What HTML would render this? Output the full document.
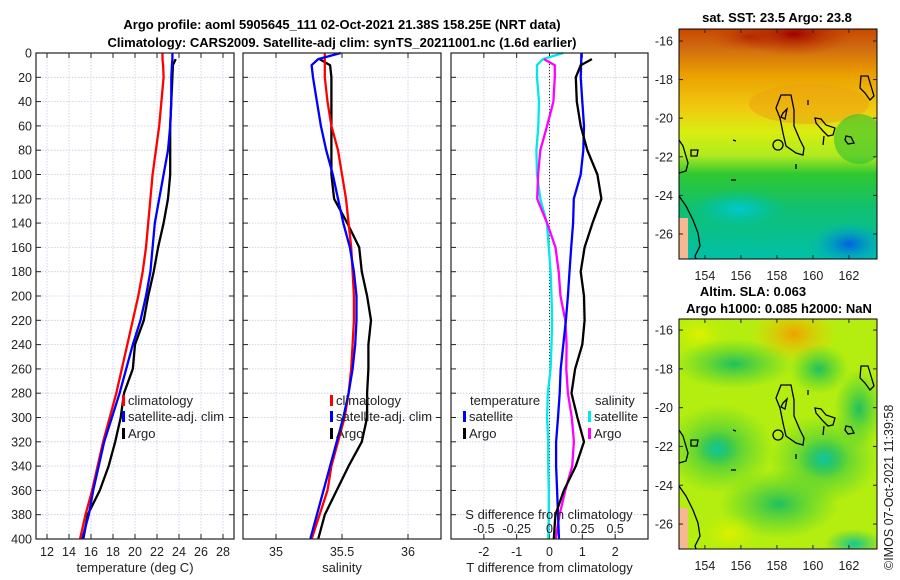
<!DOCTYPE html>
<html><head><meta charset="utf-8"><style>
body{margin:0;background:#fff}
svg{display:block;font-family:"Liberation Sans","DejaVu Sans",sans-serif}
</style></head><body>
<svg id="fig" width="900" height="580" viewBox="0 0 900 580" xmlns="http://www.w3.org/2000/svg">
<defs>
<linearGradient id="sstBase" x1="0" y1="0" x2="0" y2="1">
<stop offset="0" stop-color="#c84800"/><stop offset="0.08" stop-color="#d06a10"/><stop offset="0.2" stop-color="#eba000"/>
<stop offset="0.35" stop-color="#f0cc10"/><stop offset="0.45" stop-color="#d8ee10"/><stop offset="0.55" stop-color="#b0ea20"/>
<stop offset="0.63" stop-color="#30c830"/><stop offset="0.78" stop-color="#10c070"/><stop offset="1" stop-color="#00c0a8"/>
</linearGradient>
<radialGradient id="sstRed" cx="0.5" cy="0.5" r="0.5"><stop offset="0" stop-color="#a00000"/><stop offset="1" stop-color="#c04000" stop-opacity="0"/></radialGradient>
<radialGradient id="sstBlue" cx="0.5" cy="0.5" r="0.5"><stop offset="0" stop-color="#0060e0"/><stop offset="1" stop-color="#00b0d0" stop-opacity="0"/></radialGradient>
<radialGradient id="sstCyan" cx="0.5" cy="0.5" r="0.5"><stop offset="0" stop-color="#00c8d0"/><stop offset="1" stop-color="#00c0a8" stop-opacity="0"/></radialGradient>
<radialGradient id="slaG" cx="0.5" cy="0.5" r="0.5"><stop offset="0" stop-color="#20c060"/><stop offset="1" stop-color="#40cc30" stop-opacity="0"/></radialGradient>
<radialGradient id="slaT" cx="0.5" cy="0.5" r="0.5"><stop offset="0" stop-color="#10c8a0"/><stop offset="1" stop-color="#30c050" stop-opacity="0"/></radialGradient>
<radialGradient id="slaO" cx="0.5" cy="0.5" r="0.5"><stop offset="0" stop-color="#f0a000"/><stop offset="1" stop-color="#e8d000" stop-opacity="0"/></radialGradient>
<radialGradient id="slaY" cx="0.5" cy="0.5" r="0.5"><stop offset="0" stop-color="#e0f000"/><stop offset="1" stop-color="#c0f000" stop-opacity="0"/></radialGradient>
<clipPath id="clipTop"><rect x="0" y="0" width="198" height="230"/></clipPath>
<clipPath id="clipBot"><rect x="0" y="0" width="198" height="230"/></clipPath>
</defs>

<text x="342" y="29" font-size="13" font-weight="bold" text-anchor="middle">Argo profile: aoml 5905645_111 02-Oct-2021 21.38S 158.25E (NRT data)</text>
<text x="342" y="47" font-size="13" font-weight="bold" text-anchor="middle">Climatology: CARS2009. Satellite-adj clim: synTS_20211001.nc (1.6d earlier)</text>

<g id="plots"></g>

<!-- SST map -->
<g transform="translate(679,29)">
<g clip-path="url(#clipTop)">
<rect width="198" height="230" fill="url(#sstBase)"/>
<ellipse cx="115" cy="5" rx="60" ry="22" fill="url(#sstRed)"/>
<ellipse cx="70" cy="8" rx="40" ry="15" fill="url(#sstRed)" opacity="0.5"/>
<ellipse cx="130" cy="75" rx="60" ry="20" fill="#eca010" opacity="0.5"/>
<ellipse cx="170" cy="215" rx="40" ry="22" fill="url(#sstBlue)"/>
<ellipse cx="60" cy="180" rx="50" ry="20" fill="url(#sstCyan)"/>
<ellipse cx="180" cy="110" rx="25" ry="25" fill="#30c030" opacity="0.6"/>
<rect x="0" y="189" width="9" height="41" fill="#f5b890"/>
<g fill="none" stroke="#000" stroke-width="1.3">
<path d="M102,66 L112,66 L115,81 L115,97 L121,111 L125,119 L124,126 L117,124 L107,117 L104,104 L101,89 L97,79 Z"/>
<path d="M104,84 L108,80 L106,90 L102,88 Z"/>
<circle cx="99" cy="116" r="5"/>
<path d="M136,89 L142,90 L147,96 L156,99 L154,106 L149,107 L144,102 L137,94 Z"/>
<path d="M182,47 L189,47 L192,57 L195,67 L191,71 L186,64 L181,59 Z"/>
<path d="M167,107 L172,108 L175,114 L169,115 L166,111 Z"/>
<path d="M0,111 L4,117 L9,134 L7,142 L0,144"/>
<path d="M12,121 L19,121 L18,127 L12,127 Z"/>
<path d="M0,167 L7,177 L14,191 L19,204 L21,217 L16,227 L17,230"/>
<path d="M145,107 L144,116"/><path d="M117,135 L117,140"/><path d="M129,71 L129,76"/><path d="M52,151 L57,151"/><path d="M54,111 L57,112"/>
</g>
</g>
<rect width="198" height="230" fill="none" stroke="#000" stroke-width="1"/>
</g>

<!-- SLA map -->
<g transform="translate(679,319)">
<g clip-path="url(#clipBot)">
<rect width="198" height="230" fill="#b4ee10"/>
<ellipse cx="115" cy="15" rx="45" ry="30" fill="url(#slaO)"/>
<ellipse cx="20" cy="15" rx="30" ry="20" fill="url(#slaY)"/>
<ellipse cx="55" cy="45" rx="60" ry="25" fill="url(#slaG)"/>
<ellipse cx="140" cy="50" rx="30" ry="25" fill="url(#slaG)"/>
<ellipse cx="40" cy="130" rx="55" ry="45" fill="url(#slaG)"/>
<ellipse cx="38" cy="130" rx="22" ry="18" fill="url(#slaT)"/>
<ellipse cx="145" cy="140" rx="55" ry="45" fill="url(#slaG)"/>
<ellipse cx="145" cy="140" rx="25" ry="20" fill="url(#slaT)"/>
<ellipse cx="100" cy="185" rx="60" ry="35" fill="url(#slaG)"/>
<ellipse cx="175" cy="225" rx="30" ry="15" fill="url(#slaT)"/>
<ellipse cx="180" cy="90" rx="25" ry="40" fill="url(#slaG)"/>
<ellipse cx="50" cy="215" rx="30" ry="20" fill="url(#slaY)"/>
<rect x="0" y="189" width="9" height="41" fill="#f5b890"/>
<g fill="none" stroke="#000" stroke-width="1.3">
<path d="M102,66 L112,66 L115,81 L115,97 L121,111 L125,119 L124,126 L117,124 L107,117 L104,104 L101,89 L97,79 Z"/>
<path d="M104,84 L108,80 L106,90 L102,88 Z"/>
<circle cx="99" cy="116" r="5"/>
<path d="M136,89 L142,90 L147,96 L156,99 L154,106 L149,107 L144,102 L137,94 Z"/>
<path d="M182,47 L189,47 L192,57 L195,67 L191,71 L186,64 L181,59 Z"/>
<path d="M167,107 L172,108 L175,114 L169,115 L166,111 Z"/>
<path d="M0,111 L4,117 L9,134 L7,142 L0,144"/>
<path d="M12,121 L19,121 L18,127 L12,127 Z"/>
<path d="M0,167 L7,177 L14,191 L19,204 L21,217 L16,227 L17,230"/>
<path d="M145,107 L144,116"/><path d="M117,135 L117,140"/><path d="M129,71 L129,76"/><path d="M52,151 L57,151"/><path d="M54,111 L57,112"/>
</g>
</g>
<rect width="198" height="230" fill="none" stroke="#000" stroke-width="1"/>
</g>

<text x="777" y="22" font-size="13" font-weight="bold" text-anchor="middle">sat. SST: 23.5 Argo: 23.8</text>
<text x="753" y="296" font-size="13" font-weight="bold" text-anchor="middle">Altim. SLA: 0.063</text>
<text x="779" y="313" font-size="13" font-weight="bold" text-anchor="middle">Argo h1000: 0.085 h2000: NaN</text>
<text transform="translate(893,570) rotate(-90)" font-size="12.5" fill="#222">©IMOS 07-Oct-2021 11:39:58</text>
<g id="maptix"></g>
</svg>
<script>
const depths=[0,5,10,20,40,60,80,100,120,140,160,180,200,220,240,260,280,300,320,340,360,380,400];
const tClim=[22.5,22.5,22.55,22.6,22.4,22.2,21.9,21.6,21.4,21.2,21.0,20.7,20.3,19.8,19.3,18.8,18.3,17.7,17.1,16.6,16.1,15.5,15.0];
const tSat=[23.4,23.4,23.35,23.3,23.3,23.2,23.0,22.6,22.2,21.8,21.6,21.4,21.0,20.5,19.8,19.2,18.6,17.9,17.2,16.7,16.2,15.8,15.2];
const tArgo=[null,23.7,23.45,23.4,23.3,23.2,23.2,23.2,23.0,22.6,22.1,21.7,21.2,20.8,20.0,19.8,19.0,18.7,18.2,17.6,16.8,15.7,15.3];
const sClim=[35.37,35.37,35.37,35.37,35.39,35.42,35.47,35.50,35.53,35.55,35.57,35.58,35.59,35.59,35.58,35.57,35.55,35.52,35.47,35.42,35.39,35.33,35.27];
const sSat=[35.49,35.32,35.27,35.28,35.31,35.34,35.38,35.43,35.47,35.51,35.56,35.59,35.61,35.61,35.60,35.58,35.55,35.51,35.46,35.41,35.36,35.31,35.26];
const sArgo=[null,35.33,35.41,35.42,35.42,35.42,35.42,35.42,35.44,35.54,35.63,35.65,35.69,35.72,35.70,35.70,35.69,35.69,35.65,35.55,35.46,35.37,35.32];
const dTsat=[0.97,0.97,0.96,0.95,1.0,1.05,1.03,0.95,0.74,0.72,0.66,0.61,0.56,0.5,0.42,0.34,0.31,0.26,0.2,0.2,0.23,0.26,0.29];
const dTargo=[null,1.29,0.95,0.8,0.83,0.95,1.15,1.46,1.58,1.31,1.07,0.95,1.05,1.07,1.0,0.78,0.67,0.85,1.05,0.8,0.44,0.18,0.13];
const dSsat=[0.105,-0.05,-0.095,-0.095,-0.08,-0.085,-0.1,-0.095,-0.07,-0.02,-0.005,0.008,0.015,0.02,0.015,0.008,-0.013,-0.018,-0.01,-0.01,-0.005,-0.005,-0.01];
const dSargo=[null,-0.043,0.04,0.04,0.03,-0.018,-0.07,-0.087,-0.094,-0.018,0.046,0.07,0.084,0.12,0.13,0.128,0.14,0.17,0.186,0.173,0.12,0.077,0.046];
const depthTicks=[0,20,40,60,80,100,120,140,160,180,200,220,240,260,280,300,320,340,360,380,400];
const tTicks=[12,14,16,18,20,22,24,26,28];
const sTicks=[35,35.5,36];
const dTicks=[-2,-1,0,1,2];
const dsTicks=[-0.5,-0.25,0,0.25,0.5];
const dsTickLabels=["-0.5","-0.25","0","0.25","0.5"];
const latTicks=[-16,-18,-20,-22,-24,-26];
const lonTicks=[154,156,158,160,162];

const NS="http://www.w3.org/2000/svg";
const root=document.getElementById('plots');
function mk(tag,attrs,parent,txt){const e=document.createElementNS(NS,tag);for(const k in attrs)e.setAttribute(k,attrs[k]);if(txt!==undefined)e.textContent=txt;(parent||root).appendChild(e);return e;}
const Y0=53,Y1=539;
function yD(d){return Y0+d/400*(Y1-Y0);}
function makeX(x0,x1,min,max){return v=>x0+(v-min)/(max-min)*(x1-x0);}

const panels=[
 {name:'temperature-panel',x0:36,x1:234,min:11,max:29,ticks:tTicks,labels:tTicks.map(String),xlabel:'temperature (deg C)',yl:true},
 {name:'salinity-panel',x0:243,x1:441,min:34.75,max:36.25,ticks:sTicks,labels:["35","35.5","36"],xlabel:'salinity'},
 {name:'difference-panel',x0:451,x1:648,min:-3,max:3,ticks:dTicks,labels:dTicks.map(String),xlabel:'T difference from climatology'}
];
panels.forEach(p=>{
 p.x=makeX(p.x0,p.x1,p.min,p.max);
 const g=mk('g',{});
 
 
 p.g=g;
 depthTicks.forEach(d=>{
  const y=yD(d);
  if(d>0&&d<400) mk('line',{x1:p.x0,x2:p.x1,y1:y,y2:y,stroke:'#c4cce4','stroke-width':0.8,'stroke-dasharray':'1.5,1.5'},g);
  mk('line',{x1:p.x0,x2:p.x0+5,y1:y,y2:y,stroke:'#222','stroke-width':1},g);
  mk('line',{x1:p.x1-5,x2:p.x1,y1:y,y2:y,stroke:'#222','stroke-width':1},g);
  if(p.yl){const t=mk('text',{x:32,y:y+4.5,'font-size':12.5,'text-anchor':'end',fill:'#222'},g,String(d));
   }
 });
 p.ticks.forEach((v,i)=>{
  const x=p.x(v);
  mk('line',{x1:x,x2:x,y1:Y0,y2:Y1,stroke:'#c4cce4','stroke-width':0.8,'stroke-dasharray':'1.5,1.5'},g);
  mk('line',{x1:x,x2:x,y1:Y1-5,y2:Y1,stroke:'#222'},g);
  mk('line',{x1:x,x2:x,y1:Y0,y2:Y0+5,stroke:'#222'},g);
  const t=mk('text',{x:x,y:556,'font-size':12.5,'text-anchor':'middle',fill:'#222'},g,p.labels[i]);
  
 });
 const xl=mk('text',{x:(p.x0+p.x1)/2,y:572,'font-size':13,'text-anchor':'middle',fill:'#222'},g,p.xlabel);
 
});
function line(p,vals,color,name,w){
 let d='';let started=false;
 vals.forEach((v,i)=>{if(v===null)return;d+=(started?'L':'M')+p.x(v).toFixed(1)+','+yD(depths[i]).toFixed(1);started=true;});
 const e=mk('path',{d:d,fill:'none',stroke:color,'stroke-width':w||2.3,'stroke-linejoin':'round'},p.g);
 
 
}
const P1=panels[0],P2=panels[1],P3=panels[2];
line(P1,tArgo,'#000','argo-temperature-line');
line(P1,tClim,'#ff0000','climatology-temperature-line');
line(P1,tSat,'#0000ff','satellite-temperature-line');
line(P2,sArgo,'#000','argo-salinity-line');
line(P2,sClim,'#ff0000','climatology-salinity-line');
line(P2,sSat,'#0000ff','satellite-salinity-line');
const z=mk('line',{x1:P3.x(0),x2:P3.x(0),y1:Y0+8,y2:Y1,stroke:'#333','stroke-width':1,'stroke-dasharray':'1,2'},P3.g);

line(P3,dSsat.map(v=>v===null?null:v*4),'#00e8e8','salinity-satellite-difference-line');
line(P3,dSargo.map(v=>v===null?null:v*4),'#ff00ff','salinity-argo-difference-line');
line(P3,dTsat,'#0000ff','temperature-satellite-difference-line');
line(P3,dTargo,'#000','temperature-argo-difference-line');
dsTicks.forEach((v,i)=>{const t=mk('text',{x:P3.x(v*4),y:533,'font-size':12.5,'text-anchor':'middle',fill:'#222'},P3.g,dsTickLabels[i]);
 });
const st=mk('text',{x:549,y:519,'font-size':13,'text-anchor':'middle',fill:'#222'},P3.g,'S difference from climatology');

panels.forEach(p=>{const r=mk('rect',{x:p.x0,y:Y0,width:p.x1-p.x0,height:Y1-Y0,fill:'none',stroke:'#222','stroke-width':1.2},p.g);
 });
function leg(g,x,y,color,label){
 const m=mk('rect',{x:x,y:y-10,width:3,height:11,fill:color},g);
 
 const t=mk('text',{x:x+6,y:y,'font-size':13,fill:'#222'},g,label);
 
}
leg(P1.g,122,405,'#ff0000','climatology');
leg(P1.g,122,421,'#0000ff','satellite-adj. clim');
leg(P1.g,122,438,'#000','Argo');
leg(P2.g,330,405,'#ff0000','climatology');
leg(P2.g,330,421,'#0000ff','satellite-adj. clim');
leg(P2.g,330,438,'#000','Argo');
const lt=mk('text',{x:470,y:405,'font-size':13,fill:'#222'},P3.g,'temperature');

const ls=mk('text',{x:595,y:405,'font-size':13,fill:'#222'},P3.g,'salinity');

leg(P3.g,463,421,'#0000ff','satellite');
leg(P3.g,463,438,'#000','Argo');
leg(P3.g,588,421,'#00e8e8','satellite');
leg(P3.g,588,438,'#ff00ff','Argo');

const mt=document.getElementById('maptix');
function mapAxes(top,latTop,pxLat,labelY){
 latTicks.forEach(l=>{const y=top+(latTop-l)*pxLat;
  mk('line',{x1:679,x2:683,y1:y,y2:y,stroke:'#222'},mt);mk('line',{x1:873,x2:877,y1:y,y2:y,stroke:'#222'},mt);
  const t=mk('text',{x:673,y:y+4.5,'font-size':12.5,'text-anchor':'end',fill:'#222'},mt,String(l));
  });
 lonTicks.forEach(l=>{const x=679+(l-152.56)*18;
  mk('line',{x1:x,x2:x,y1:top+226,y2:top+230,stroke:'#222'},mt);mk('line',{x1:x,x2:x,y1:top,y2:top+4,stroke:'#222'},mt);
  const t=mk('text',{x:x,y:labelY,'font-size':12.5,'text-anchor':'middle',fill:'#222'},mt,String(l));
  });
}
mapAxes(29,-15.38,19.3,280);
mapAxes(319,-15.43,19.4,570);
</script>
</body></html>
